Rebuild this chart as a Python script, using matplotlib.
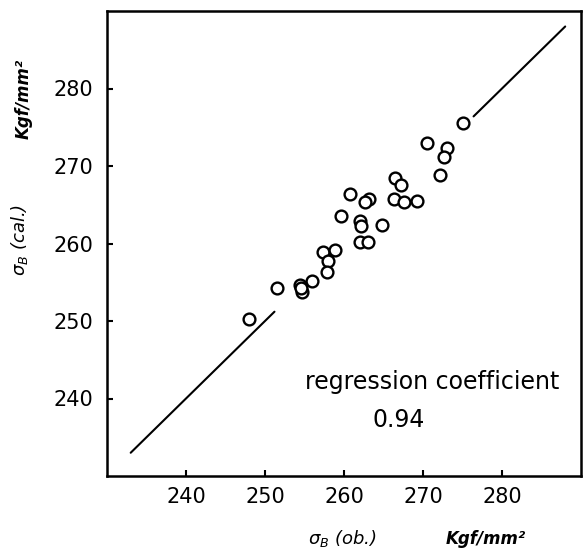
import matplotlib
matplotlib.use("Agg")
import matplotlib.pyplot as plt

# observed vs calculated tensile strength (Kgf/mm^2)
sigma_ob = [275.0, 270.5, 273.0, 272.6, 272.1, 266.5, 267.2, 260.8, 263.2, 262.6,
            266.3, 267.6, 269.2, 259.6, 262.0, 262.2, 264.8, 262.0, 263.0, 257.3,
            258.8, 258.0, 257.9, 251.5, 255.9, 254.4, 254.7, 254.5, 248.0]
sigma_cal = [275.5, 273.0, 272.3, 271.1, 268.9, 268.5, 267.5, 266.4, 265.8, 265.4,
             265.7, 265.3, 265.5, 263.5, 262.9, 262.2, 262.4, 260.2, 260.2, 258.9,
             259.2, 257.8, 256.3, 254.3, 255.1, 254.7, 253.8, 254.2, 250.3]

line_low = [233.0, 251.2]
line_high = [276.4, 288.0]

xticks = [240, 250, 260, 270, 280]
yticks = [240, 250, 260, 270, 280]
coef_text = "0.94"

fig = plt.figure(figsize=(5.84, 5.48), dpi=100)
ax = fig.add_axes([107 / 584, 1 - 476 / 548, 474 / 584, 465 / 548])

ax.plot(line_low, line_low, color="black", lw=1.5, solid_capstyle="round")
ax.plot(line_high, line_high, color="black", lw=1.5, solid_capstyle="round")
ax.scatter(sigma_ob, sigma_cal, s=72, facecolors="white", edgecolors="black",
           linewidths=1.7, zorder=3)

ax.set_xlim(230, 290)
ax.set_ylim(230, 290)
ax.set_xticks(xticks)
ax.set_yticks(yticks)
ax.set_xticklabels([str(t) for t in xticks])
ax.set_yticklabels([str(t) for t in yticks])
ax.tick_params(axis="both", direction="in", length=4, width=1.5, labelsize=15)
ax.tick_params(axis="x", pad=8)
ax.tick_params(axis="y", pad=10)
for sp in ax.spines.values():
    sp.set_linewidth(1.8)

ax.set_xlabel(r"$\sigma_B$ (ob.)", fontsize=13, style="italic", va="center")
ax.xaxis.set_label_coords(0.496, -0.135)
ax.set_ylabel(r"$\sigma_B$ (cal.)", fontsize=13, style="italic", va="center")
ax.yaxis.set_label_coords(-0.184, 0.508)

ax.text(0.80, -0.135, "Kgf/mm²", transform=ax.transAxes, ha="center", va="center",
        fontsize=12, style="italic", fontweight="bold")
ax.text(-0.175, 0.811, "Kgf/mm²", transform=ax.transAxes, ha="center", va="center",
        fontsize=12, style="italic", fontweight="bold", rotation=90)

ax.text(0.686, 0.202, "regression coefficient", transform=ax.transAxes,
        ha="center", va="center", fontsize=17)
ax.text(0.616, 0.120, coef_text, transform=ax.transAxes,
        ha="center", va="center", fontsize=17)

fig.savefig("out.png", dpi=100)
